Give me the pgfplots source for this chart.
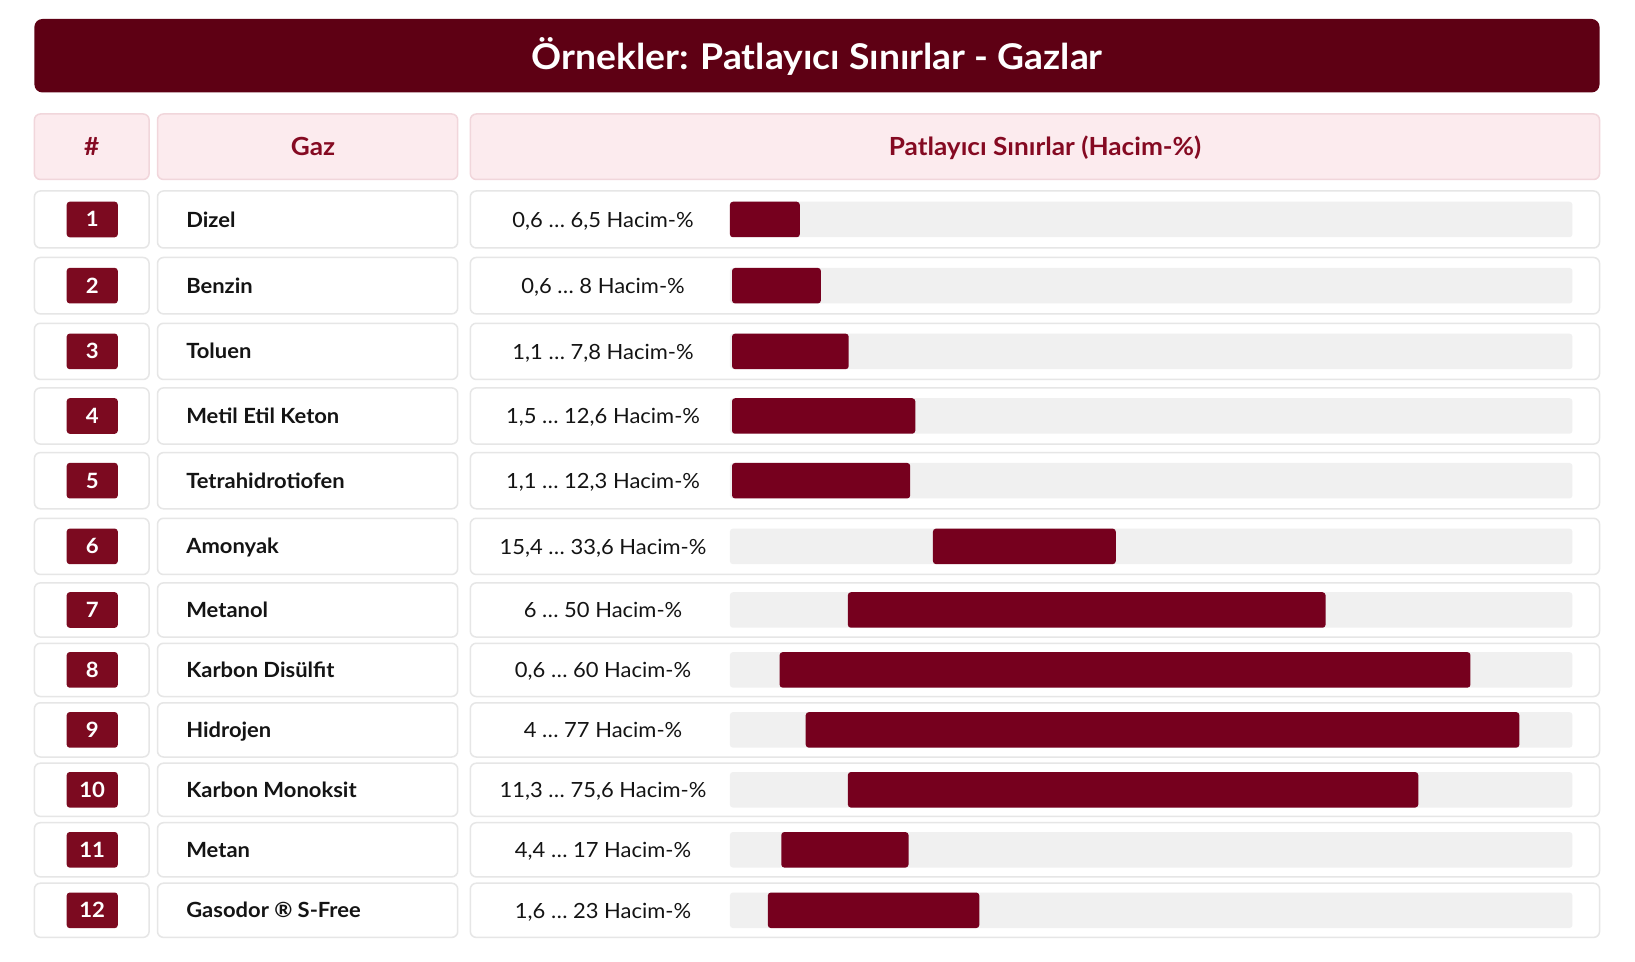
\documentclass[border=0pt]{standalone}
\usepackage{pgfplots}
\pgfplotsset{compat=1.18}
\usepackage{pgfplotstable}
\usepackage{fontspec}
\setmainfont{Lato}[FakeStretch=1.05]

\definecolor{titlebg}{HTML}{5E0014}
\definecolor{barred}{HTML}{76001E}
\definecolor{badge}{HTML}{7C0A20}
\definecolor{headbg}{HTML}{FCEBEE}
\definecolor{headbd}{HTML}{F1D6DB}
\definecolor{headtx}{HTML}{850A22}
\definecolor{cellbd}{HTML}{E6E6E6}
\definecolor{track}{HTML}{F0F0F0}
\definecolor{txt}{HTML}{141414}

% bar start / end on the track scale (0 = left end, 100 = right end of the grey track)
\pgfplotstableread{
id y start end
1 219.5 0 8.3
2 285.7 0.25 10.8
3 351.4 0.25 14.1
4 416.0 0.25 22.0
5 480.7 0.25 21.4
6 546.4 24.1 45.8
7 610.0 14.0 70.7
8 669.9 5.9 87.9
9 729.9 9.0 93.7
10 789.8 14.0 81.7
11 849.8 6.1 21.2
12 910.3 4.5 29.6
}\bardata

\newcommand\ftitle{\fontsize{10.1pt}{12pt}\selectfont\bfseries}
\newcommand\fhead{\fontsize{7.1pt}{8pt}\selectfont\bfseries}
\newcommand\fname{\fontsize{5.95pt}{7pt}\selectfont\bfseries}
\newcommand\frng{\fontsize{5.95pt}{7pt}\selectfont}
\newcommand\fbadge{\fontsize{6.0pt}{7pt}\selectfont\bfseries}

\begin{document}
\begin{tikzpicture}
\begin{scope}[x=0.1mm, y=-0.1mm, yshift=96.2mm]
  \fill[white] (0,0) rectangle (1635,962);
  % title
  \fill[titlebg, rounded corners=0.8mm] (34.4,19) rectangle (1599.5,92.5);
  \node[anchor=base, text=white, font=\ftitle, inner sep=0] at (817,70.0) {Örnekler: Patlayıcı Sınırlar - Gazlar};
  % header
  \foreach \a/\b in {34.4/149.1,157.5/457.7,470.3/1599.5} {
    \draw[headbd, fill=headbg, rounded corners=0.6mm, line width=0.15mm] (\a,114) rectangle (\b,179.5);
  }
  \node[anchor=base, text=headtx, font=\fhead, inner sep=0] at (91.7,155.6) {\#};
  \node[anchor=base, text=headtx, font=\fhead, inner sep=0] at (313,155.6) {Gaz};
  \node[anchor=base, text=headtx, font=\fhead, inner sep=0] at (1045,155.6) {Patlayıcı Sınırlar (Hacim-\%)};
  % rows
  \foreach \n/\yc/\h/\name/\rng in {
    1/219.5/28.5/Dizel/{0,6 … 6,5 Hacim-\%},
    2/285.7/28.2/Benzin/{0,6 … 8 Hacim-\%},
    3/351.4/28.1/Toluen/{1,1 … 7,8 Hacim-\%},
    4/416.0/28.1/Metil Etil Keton/{1,5 … 12,6 Hacim-\%},
    5/480.7/28.1/Tetrahidrotiofen/{1,1 … 12,3 Hacim-\%},
    6/546.4/28.1/Amonyak/{15,4 … 33,6 Hacim-\%},
    7/610.0/27.1/Metanol/{6 … 50 Hacim-\%},
    8/669.9/26.6/Karbon Disülfit/{0,6 … 60 Hacim-\%},
    9/729.9/27.1/Hidrojen/{4 … 77 Hacim-\%},
    10/789.8/26.6/Karbon Monoksit/{11,3 … 75,6 Hacim-\%},
    11/849.8/27.1/Metan/{4,4 … 17 Hacim-\%},
    12/910.3/27.1/Gasodor ® S-Free/{1,6 … 23 Hacim-\%}} {
    \draw[cellbd, fill=white, rounded corners=0.6mm, line width=0.15mm] (34.4,\yc-\h) rectangle (149.1,\yc+\h);
    \draw[cellbd, fill=white, rounded corners=0.6mm, line width=0.15mm] (157.5,\yc-\h) rectangle (457.7,\yc+\h);
    \draw[cellbd, fill=white, rounded corners=0.6mm, line width=0.15mm] (470.3,\yc-\h) rectangle (1599.5,\yc+\h);
    \fill[badge, rounded corners=0.3mm] (66.7,\yc-17.8) rectangle (117.8,\yc+17.8);
    \node[anchor=base, text=white, font=\fbadge, inner sep=0] at (92.2,\yc+7.4) {\n};
    \node[anchor=base west, text=txt, font=\fname, inner sep=0] at (185.6,\yc+7.6) {\name};
    \node[anchor=base, text=txt, font=\frng, inner sep=0] at (603,\yc+7.7) {\rng};
    \fill[track, rounded corners=0.3mm] (729.9,\yc-17.75) rectangle (1572.4,\yc+17.75);
  }
\end{scope}
\begin{axis}[at={(72.99mm,0mm)}, anchor=south west, scale only axis,
  width=84.25mm, height=96.2mm, xmin=0, xmax=100, ymin=0, ymax=962,
  y dir=reverse, hide axis, clip=false, xbar stacked, bar width=35.5]
  \addplot[draw=none, fill=none] table[x=start, y=y] \bardata;
  \addplot[draw=none, fill=barred, rounded corners=0.3mm] table[x expr=\thisrow{end}-\thisrow{start}, y=y] \bardata;
\end{axis}
\pgfresetboundingbox
\path[use as bounding box] (0,0) rectangle (163.5mm,96.2mm);
\end{tikzpicture}
\end{document}
